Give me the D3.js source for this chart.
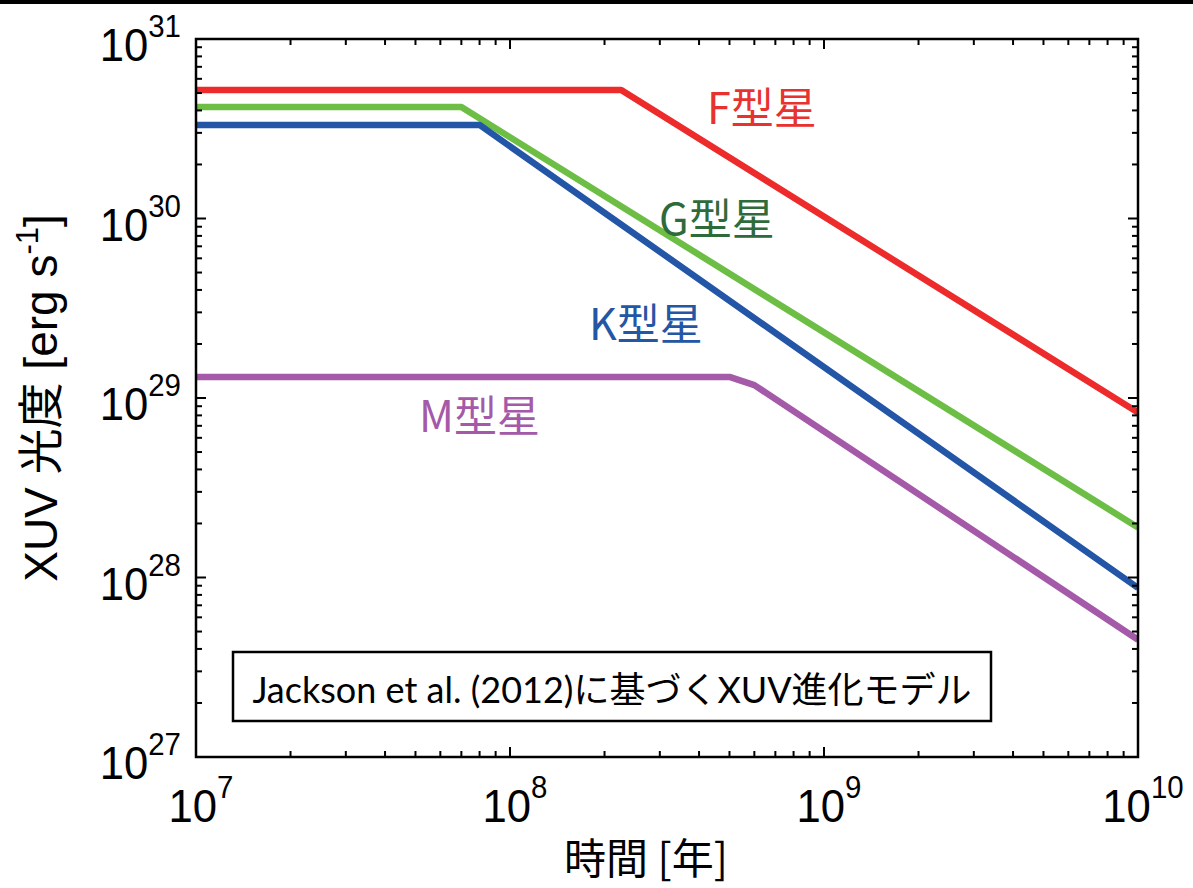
<!DOCTYPE html>
<html><head><meta charset="utf-8">
<script src="https://cdn.jsdelivr.net/npm/d3@7"></script>
<style>html,body{margin:0;padding:0;background:#fff;}svg{display:block;}</style>
</head><body>
<svg id="chart" width="1193" height="888"></svg>
<script>
// ---- data ----
const ageF = [1e7, 2.26e8, 1e10];
const lumF = [5.2e30, 5.2e30, 8.3e28];
const ageG = [1e7, 7.0e7, 1e10];
const lumG = [4.18e30, 4.18e30, 1.9e28];
const ageK = [1e7, 8.0e7, 1e10];
const lumK = [3.32e30, 3.32e30, 8.75e27];
const ageM = [1e7, 5.0e8, 6.0e8, 1e10];
const lumM = [1.31e29, 1.31e29, 1.18e29, 4.5e27];
const seriesNames = ["F型星", "G型星", "K型星", "M型星"];
const xTickExp = [7, 8, 9, 10];
const yTickExp = [27, 28, 29, 30, 31];
const annotation = "Jackson et al. (2012)に基づくXUV進化モデル";
const xTitle = "時間 [年]";

const svg = d3.select("#chart");
const W = 1193, H = 888;
const m = {l: 196, r: 1138, t: 39, b: 757};

svg.append("rect").attr("x", 0).attr("y", 0).attr("width", W).attr("height", 4).attr("fill", "#000");

const x = d3.scaleLog().domain([1e7, 1e10]).range([m.l, m.r]);
const y = d3.scaleLog().domain([1e27, 1e31]).range([m.b, m.t]);

svg.append("defs").append("clipPath").attr("id", "clip")
  .append("rect").attr("x", m.l).attr("y", m.t).attr("width", m.r - m.l).attr("height", m.b - m.t);

const series = [
  {name: seriesNames[0], age: ageF, lum: lumF, color: "#EE2B2B", lab: "#E8322F", lx: 707, ly: 124},
  {name: seriesNames[1], age: ageG, lum: lumG, color: "#6CBE45", lab: "#2F6A3A", lx: 659, ly: 235},
  {name: seriesNames[2], age: ageK, lum: lumK, color: "#2356A6", lab: "#2456A6", lx: 589, ly: 340},
  {name: seriesNames[3], age: ageM, lum: lumM, color: "#A45AA8", lab: "#A45AA8", lx: 419, ly: 432}
];

const line = d3.line().x(d => x(d[0])).y(d => y(d[1]));
const g = svg.append("g").attr("clip-path", "url(#clip)");
series.forEach(s => {
  g.append("path").datum(s.age.map((a, i) => [a, s.lum[i]]))
    .attr("d", line).attr("fill", "none").attr("stroke", s.color)
    .attr("stroke-width", 6.5).attr("stroke-linejoin", "round");
});

// ticks
const minorX = [], minorY = [];
for (let e = 7; e < 10; e++) for (let k = 2; k <= 9; k++) minorX.push(k * Math.pow(10, e));
for (let e = 27; e < 31; e++) for (let k = 2; k <= 9; k++) minorY.push(k * Math.pow(10, e));
const majorX = xTickExp.map(e => Math.pow(10, e));
const majorY = yTickExp.map(e => Math.pow(10, e));
const tk = svg.append("g").attr("stroke", "#000").attr("stroke-width", 2);
function xt(v, len) {
  tk.append("line").attr("x1", x(v)).attr("x2", x(v)).attr("y1", m.b).attr("y2", m.b - len);
  tk.append("line").attr("x1", x(v)).attr("x2", x(v)).attr("y1", m.t).attr("y2", m.t + len);
}
function yt(v, len) {
  tk.append("line").attr("y1", y(v)).attr("y2", y(v)).attr("x1", m.l).attr("x2", m.l + len);
  tk.append("line").attr("y1", y(v)).attr("y2", y(v)).attr("x1", m.r).attr("x2", m.r - len);
}
minorX.forEach(v => xt(v, 6));
majorX.forEach(v => xt(v, 10));
minorY.forEach(v => yt(v, 6));
majorY.forEach(v => yt(v, 10));

svg.append("rect").attr("x", m.l).attr("y", m.t).attr("width", m.r - m.l).attr("height", m.b - m.t)
  .attr("fill", "none").attr("stroke", "#000").attr("stroke-width", 2.5);

const numFont = "'Liberation Sans', Arial, sans-serif";
// x tick labels
xTickExp.forEach(e => {
  const gg = svg.append("g").attr("transform", `translate(${x(Math.pow(10, e)) + 5},822) scale(0.95,1)`);
  const t = gg.append("text").attr("text-anchor", "middle").attr("font-family", numFont).attr("font-size", 46).attr("fill", "#000");
  t.append("tspan").text("10");
  t.append("tspan").attr("font-size", 31).attr("dy", -24).text(e);
});
// y tick labels
yTickExp.forEach(e => {
  const gg = svg.append("g").attr("transform", `translate(181,${y(Math.pow(10, e)) + 22}) scale(0.95,1)`);
  const t = gg.append("text").attr("text-anchor", "end").attr("font-family", numFont).attr("font-size", 46).attr("fill", "#000");
  t.append("tspan").text("10");
  t.append("tspan").attr("font-size", 31).attr("dy", -24).text(e);
});

// axis titles
const cjk = "'Liberation Sans', 'Noto Sans CJK JP', sans-serif";
svg.append("g").attr("transform", "translate(646,874)")
  .append("text").attr("text-anchor", "middle").attr("font-family", "'Noto Sans CJK JP', sans-serif")
  .attr("font-size", 42).attr("fill", "#000").text(xTitle);

const yt2 = svg.append("text").attr("transform", "translate(57,398) rotate(-90)")
  .attr("text-anchor", "middle").attr("font-family", cjk).attr("font-size", 46).attr("fill", "#000");
yt2.append("tspan").text("XUV 光度 [erg s");
yt2.append("tspan").attr("font-size", 31).attr("dy", -19).text("-1");
yt2.append("tspan").attr("dy", 19).text("]");

// series labels
series.forEach(s => {
  svg.append("text").attr("x", s.lx).attr("y", s.ly).attr("font-family", "'Noto Sans CJK JP', sans-serif")
    .attr("font-size", 43).attr("fill", s.lab).text(s.name);
});

// annotation box
svg.append("rect").attr("x", 233).attr("y", 652).attr("width", 758).attr("height", 69)
  .attr("fill", "#fff").attr("stroke", "#000").attr("stroke-width", 2.5);
svg.append("text").attr("x", 612).attr("y", 703).attr("text-anchor", "middle")
  .attr("font-family", "Lato, 'Noto Sans CJK JP', sans-serif").attr("font-size", 36).attr("fill", "#000")
  .text(annotation);
</script>
</body></html>
